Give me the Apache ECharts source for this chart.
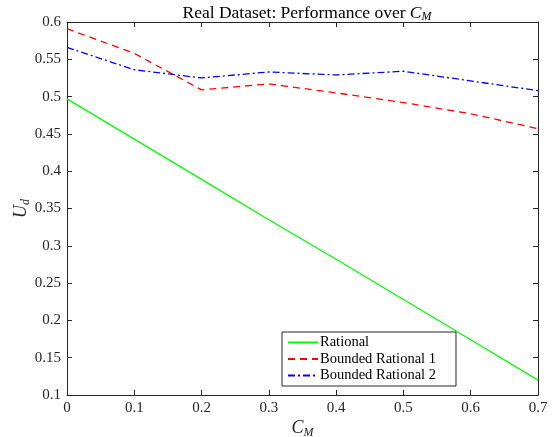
<!DOCTYPE html>
<html><head><meta charset="utf-8">
<script src="https://cdn.jsdelivr.net/npm/echarts@6/dist/echarts.min.js"></script>
<style>html,body{margin:0;padding:0;background:#fff}#c{width:553px;height:437px}</style>
</head><body><div id="c"></div>
<script>
const xValues = [0, 0.1, 0.2, 0.3, 0.4, 0.5, 0.6, 0.7];
const rational = [0.497, 0.443, 0.389, 0.335, 0.282, 0.228, 0.174, 0.120];
const bounded1 = [0.591, 0.558, 0.509, 0.517, 0.505, 0.492, 0.477, 0.457];
const bounded2 = [0.566, 0.536, 0.525, 0.533, 0.529, 0.534, 0.521, 0.508];
const seriesNames = ['Rational', 'Bounded Rational 1', 'Bounded Rational 2'];

const F = '"Liberation Serif", "DejaVu Serif", serif';
const chart = echarts.init(document.getElementById('c'));
const pair = arr => xValues.map((x, i) => [x, arr[i]]);
const axisCommon = {
  axisLine: {show: true, onZero: false, lineStyle: {color: '#262626', width: 1}},
  axisTick: {show: true, inside: true, length: 5, lineStyle: {color: '#262626'}},
  splitLine: {show: false}
};
const nameRich = {
  i: {fontFamily: F, fontStyle: 'italic', fontSize: 18, color: '#262626'},
  s: {fontFamily: F, fontStyle: 'italic', fontSize: 12, color: '#262626', padding: [10, 0, 0, 0]}
};
chart.setOption({
  animation: false,
  backgroundColor: '#fff',
  title: {
    text: 'Real Dataset: Performance over {i|C}{s|M}',
    left: 302, top: -2, textAlign: 'center',
    textStyle: {fontFamily: F, fontSize: 17.5, fontWeight: 'normal', color: '#000',
      rich: {i: {fontFamily: F, fontStyle: 'italic', fontSize: 17.5, color: '#000'},
             s: {fontFamily: F, fontStyle: 'italic', fontSize: 12, color: '#000', padding: [8, 0, 0, 0]}}}
  },
  grid: {left: 67, right: 15, top: 22, bottom: 42, containLabel: false, outerBoundsMode: 'none'},
  legend: {
    orient: 'vertical', left: 282, top: 332,
    backgroundColor: '#fff', borderColor: '#262626', borderWidth: 1, borderRadius: 0,
    padding: [3, 20, 3, 5], itemGap: 1.5, itemWidth: 30, itemHeight: 14,
    textStyle: {fontFamily: F, fontSize: 14.5, color: '#000', padding: [0, 0, 0, -3]},
    itemStyle: {opacity: 0},
    data: seriesNames
  },
  xAxis: [
    Object.assign({type: 'value', min: 0, max: 0.7, interval: 0.1, position: 'bottom',
      name: '{i|C}{s|M}', nameLocation: 'middle', nameGap: 22, nameMoveOverlap: false,
      nameTextStyle: {rich: nameRich},
      axisLabel: {fontFamily: F, fontSize: 15, color: '#262626', margin: 6}}, axisCommon),
    Object.assign({type: 'value', min: 0, max: 0.7, interval: 0.1, position: 'top',
      axisLabel: {show: false}}, axisCommon)
  ],
  yAxis: [
    Object.assign({type: 'value', min: 0.1, max: 0.6, interval: 0.05, position: 'left',
      name: '{i|U}{s|d}', nameLocation: 'middle', nameGap: 35, nameRotate: 90, nameMoveOverlap: false,
      nameTextStyle: {rich: nameRich},
      axisLabel: {fontFamily: F, fontSize: 15, color: '#262626', margin: 6,
        formatter: v => String(+v.toFixed(2))}}, axisCommon),
    Object.assign({type: 'value', min: 0.1, max: 0.6, interval: 0.05, position: 'right',
      axisLabel: {show: false}}, axisCommon)
  ],
  series: [
    {name: seriesNames[0], type: 'line', data: pair(rational), symbol: 'none',
      lineStyle: {color: '#00ff00', width: 1.3, type: 'solid'}, itemStyle: {color: '#00ff00'}},
    {name: seriesNames[1], type: 'line', data: pair(bounded1), symbol: 'none',
      lineStyle: {color: '#ff0000', width: 1.3, type: [7, 5]}, itemStyle: {color: '#ff0000'}},
    {name: seriesNames[2], type: 'line', data: pair(bounded2), symbol: 'none',
      lineStyle: {color: '#0000ff', width: 1.3, type: [7, 3, 2, 3]}, itemStyle: {color: '#0000ff'}}
  ]
});
</script></body></html>
